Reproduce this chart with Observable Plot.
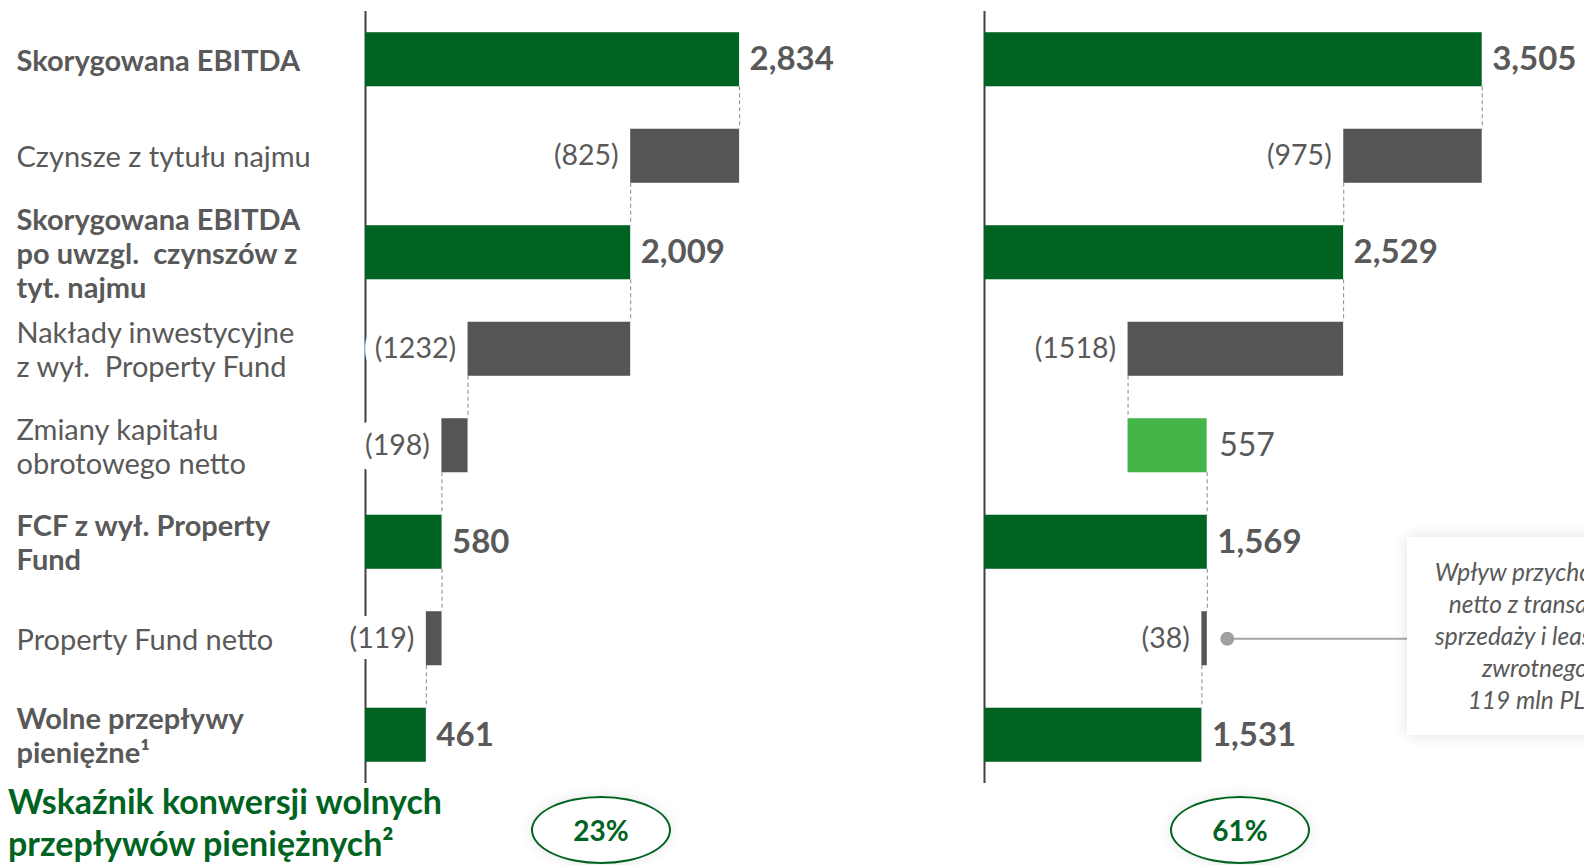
<!DOCTYPE html>
<html>
<head>
<meta charset="utf-8">
<script src="https://cdn.jsdelivr.net/npm/d3@7"></script>
<script src="https://cdn.jsdelivr.net/npm/@observablehq/plot@0.6"></script>
<style>
  html, body { margin: 0; padding: 0; background: #fff; }
  #page { position: relative; width: 1584px; height: 865px; overflow: hidden; font-family: Lato, sans-serif; background: #fff; }
  .chart { position: absolute; top: 0; }
  .ellipse { position: absolute; top: 796px; width: 136px; height: 64px; border: 2px solid #006321; border-radius: 50%;
    background: #fff; box-shadow: 0 0 14px rgba(0,0,0,0.10); display: flex; align-items: center; justify-content: center;
    color: #006321; font-weight: 700; font-size: 28px; }
  #footer { position: absolute; left: 8px; top: 780px; color: #006321; font-weight: 700; font-size: 34px; line-height: 42px; white-space: pre; }
  #note { position: absolute; left: 1407px; top: 537px; width: 256px; height: 198px; background: #fff;
    box-shadow: 0 0 14px rgba(0,0,0,0.12); display: flex; flex-direction: column; justify-content: center; align-items: center;
    font-style: italic; font-size: 24.5px; line-height: 32px; color: #595959; text-align: center; white-space: nowrap; }
</style>
</head>
<body>
<div id="page"></div>
<script>
// ---------------- data ----------------
const categories = [
  "Skorygowana EBITDA",
  "Czynsze z tytułu najmu",
  "Skorygowana EBITDA\npo uwzgl.  czynszów z\ntyt. najmu",
  "Nakłady inwestycyjne\nz wył.  Property Fund",
  "Zmiany kapitału\nobrotowego netto",
  "FCF z wył. Property\nFund",
  "Property Fund netto",
  "Wolne przepływy\npieniężne¹"
];
const boldCategory = [true, false, true, false, false, true, false, true];
const kinds = ["total", "delta", "total", "delta", "delta", "total", "delta", "total"];
const valuesLeft = [2834, -825, 2009, -1232, -198, 580, -119, 461];
const valuesRight = [3505, -975, 2529, -1518, 557, 1569, -38, 1531];
const conversionRates = ["23%", "61%"];
const footerTitle = "Wskaźnik konwersji wolnych\nprzepływów pieniężnych²";
const noteLines = ["Wpływ przychodów", "netto z transakcji", "sprzedaży i leasingu", "zwrotnego", "119 mln PLN"];
const noteRow = 6;

// ---------------- helpers ----------------
const GREEN = "#006321", GRAY = "#555555", LIGHT = "#44b649", TEXT = "#595959";
const H = 0.28; // half bar thickness in row units

function waterfall(values) {
  let run = 0;
  return values.map((v, i) => {
    let x1, x2;
    if (kinds[i] === "total") { x1 = 0; x2 = v; run = v; }
    else { x1 = run; x2 = run + v; run = x2; }
    return { i, v, x1, x2, lo: Math.min(x1, x2), hi: Math.max(x1, x2), end: run, kind: kinds[i] };
  });
}
const fillOf = d => d.kind === "total" ? GREEN : (d.v < 0 ? GRAY : LIGHT);
const fmt = d3.format(",");

function panel(values, opts) {
  const rows = waterfall(values);
  const negRows = rows.filter(d => d.kind === "delta" && d.v < 0);
  const negLabel = { x: "lo", y: "i", text: d => `(${-d.v})`, textAnchor: "end", dx: -12, fontSize: 28.5 };
  const links = rows.slice(0, -1).map(d => ({ x: d.end, y1: d.i + H, y2: d.i + 1 - H }));
  const marks = [
    Plot.ruleX(links, { x: "x", y1: "y1", y2: "y2", stroke: "#8a8a8a", strokeWidth: 1, strokeDasharray: "4,3" }),
    Plot.ruleX([0], { stroke: "#404040", strokeWidth: 2 }),
    // white knock-out behind negative labels (breaks the axis line like the original)
    Plot.text(negRows, { ...negLabel, fill: "white", stroke: "white", strokeWidth: 22 }),
    Plot.rectX(rows, { x1: "x1", x2: "x2", y1: d => d.i - H, y2: d => d.i + H, fill: fillOf }),
    Plot.text(rows.filter(d => d.kind === "total"), { x: "x2", y: "i", text: d => fmt(d.v), textAnchor: "start", dx: 10,
      fontWeight: 700, fontSize: 33, fill: TEXT }),
    Plot.text(negRows, { ...negLabel, fill: TEXT }),
    Plot.text(rows.filter(d => d.kind === "delta" && d.v > 0), { x: "hi", y: "i", text: d => String(d.v), textAnchor: "start", dx: 12,
      fontSize: 32, fill: TEXT })
  ];
  if (opts.labels) {
    marks.push(
      Plot.text(rows.filter(d => boldCategory[d.i]), { y: "i", text: d => categories[d.i], frameAnchor: "left", dx: 16 - opts.marginLeft,
        textAnchor: "start", lineAnchor: "middle", fontWeight: 700, fontSize: 29, fill: TEXT, lineHeight: 1.17 }),
      Plot.text(rows.filter(d => !boldCategory[d.i]), { y: "i", text: d => categories[d.i], frameAnchor: "left", dx: 16 - opts.marginLeft,
        textAnchor: "start", lineAnchor: "middle", fontWeight: 400, fontSize: 29, fill: TEXT, lineHeight: 1.17 })
    );
  }
  if (opts.note) {
    const r = rows[noteRow];
    marks.push(
      Plot.ruleY([r], { y: "i", x1: "hi", x2: () => opts.xmax, dx: 20, stroke: "#a6a6a6", strokeWidth: 2 }),
      Plot.dot([r], { x: "hi", y: "i", dx: 20, r: 7, fill: "#a0a0a0" })
    );
  }
  return Plot.plot({
    width: opts.width, height: 790,
    marginLeft: opts.marginLeft, marginRight: opts.marginRight, marginTop: 11, marginBottom: 7,
    x: { domain: [0, opts.xmax], axis: null },
    y: { domain: [-0.5, 7.5], reverse: true, axis: null },
    style: { fontFamily: "Lato, sans-serif", background: "transparent", overflow: "visible" },
    marks
  });
}

const page = document.getElementById("page");

const left = panel(valuesLeft, { width: 960, marginLeft: 365, marginRight: 199, xmax: 3000, labels: true });
left.classList.add("chart"); left.style.left = "0px";
page.appendChild(left);

const right = panel(valuesRight, { width: 624, marginLeft: 24, marginRight: 32, xmax: 4000, note: true });
right.classList.add("chart"); right.style.left = "960px";
page.appendChild(right);

const footer = document.createElement("div");
footer.id = "footer"; footer.textContent = footerTitle;
page.appendChild(footer);

const ellipseLeft = [531, 1170];
conversionRates.forEach((t, k) => {
  const e = document.createElement("div");
  e.className = "ellipse"; e.style.left = ellipseLeft[k] + "px"; e.textContent = t;
  page.appendChild(e);
});

const note = document.createElement("div");
note.id = "note";
noteLines.forEach(l => { const s = document.createElement("div"); s.textContent = l; note.appendChild(s); });
page.appendChild(note);
</script>
</body>
</html>
